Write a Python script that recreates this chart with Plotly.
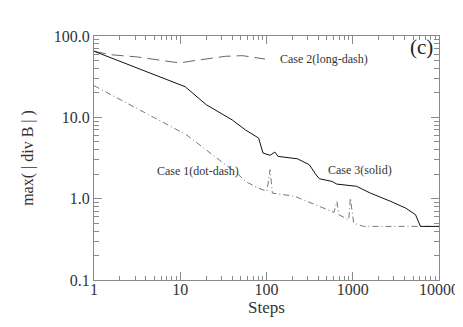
import plotly.graph_objects as go

# Case 3 (solid)
case3_steps = [1, 11.4, 20, 40, 57, 81, 91, 110, 125, 136, 229, 314, 375, 409, 574, 655, 1107, 1600, 2700, 4120, 5350, 6100, 10000]
case3_div = [65, 23.8, 14.3, 9.3, 7.0, 5.56, 3.64, 3.41, 3.74, 3.31, 3.09, 2.61, 1.97, 1.76, 1.63, 1.51, 1.42, 1.17, 0.935, 0.765, 0.634, 0.456, 0.456]

# Case 1 (dot-dash)
case1_steps = [1, 11.8, 47.5, 57, 80, 101, 110, 117, 212, 329, 466, 605, 655, 690, 898, 939, 1025, 1330, 10000]
case1_div = [24.5, 6.1, 1.97, 1.63, 1.35, 1.23, 2.27, 1.17, 1.07, 0.88, 0.766, 0.68, 0.92, 0.634, 0.55, 1.02, 0.50, 0.456, 0.456]

# Case 2 (long-dash)
case2_steps = [1, 1.56, 3.2, 9.8, 15.3, 33.6, 52.7, 96]
case2_div = [65, 58.9, 55.2, 46.6, 50.2, 56.3, 57.3, 52.1]

y_tickvals = [0.1, 1, 10, 100]
y_ticktext = ["0.1", "1.0", "10.0", "100.0"]
x_tickvals = [1, 10, 100, 1000, 10000]
x_ticktext = ["1", "10", "100", "1000", "10000"]

x_minor = [m * 10 ** k for k in range(0, 4) for m in range(2, 10)]
y_minor = [m * 10 ** k for k in range(-1, 2) for m in range(2, 10)]

FONT = "Liberation Serif"
AX = "#8a8a8a"
TXT = "#333333"

fig = go.Figure()
fig.add_trace(go.Scatter(x=case2_steps, y=case2_div, mode="lines",
                         line=dict(color="#666666", width=1, dash="12px,6px"), showlegend=False))
fig.add_trace(go.Scatter(x=case1_steps, y=case1_div, mode="lines",
                         line=dict(color="#777777", width=1, dash="6px,3px,1px,3px"), showlegend=False))
fig.add_trace(go.Scatter(x=case3_steps, y=case3_div, mode="lines",
                         line=dict(color="#111111", width=1), showlegend=False))

fig.add_annotation(x=(273-86)/351, y=1-(51-28)/244, xref="paper", yref="paper",
                   text="Case 2(long-dash)", showarrow=False, xanchor="left", yanchor="middle",
                   font=dict(family=FONT, size=12, color=TXT))
fig.add_annotation(x=(321.7-86)/351, y=1-(162.3-28)/244, xref="paper", yref="paper",
                   text="Case 3(solid)", showarrow=False, xanchor="left", yanchor="middle",
                   font=dict(family=FONT, size=12, color=TXT))
fig.add_annotation(x=(147.7-86)/351, y=1-(162.7-28)/244, xref="paper", yref="paper",
                   text="Case 1(dot-dash)", showarrow=False, xanchor="left", yanchor="middle",
                   font=dict(family=FONT, size=12, color=TXT))
fig.add_annotation(x=(433-86)/351, y=1-(38.5-28)/244, xref="paper", yref="paper",
                   text="(c)", showarrow=False, xanchor="right", yanchor="middle",
                   font=dict(family=FONT, size=21, color="#222"))

axis_common = dict(showline=True, linecolor=AX, linewidth=1, mirror="ticks",
                   ticks="inside", ticklen=8, tickcolor=AX, tickwidth=1,
                   showgrid=False, zeroline=False,
                   tickfont=dict(family=FONT, size=16, color=TXT))

fig.update_xaxes(type="log", range=[0, 4], tickvals=x_tickvals, ticktext=x_ticktext,
                 ticklabelstandoff=-5,
                 minor=dict(ticks="inside", ticklen=4, tickcolor=AX, showgrid=False,
                            tickmode="array", tickvals=x_minor),
                 title=dict(text="Steps", font=dict(family=FONT, size=17, color=TXT), standoff=0),
                 **axis_common)
fig.update_yaxes(type="log", range=[-1, 2], tickvals=y_tickvals, ticktext=y_ticktext,
                 minor=dict(ticks="inside", ticklen=5, tickcolor=AX, showgrid=False,
                            tickmode="array", tickvals=y_minor),
                 title=dict(text="max( | div B | )", font=dict(family=FONT, size=16, color=TXT), standoff=16),
                 **axis_common)

fig.update_layout(width=463, height=327, margin=dict(l=86, r=26, t=28, b=55),
                  plot_bgcolor="white", paper_bgcolor="white")

fig.write_html("out.html")
